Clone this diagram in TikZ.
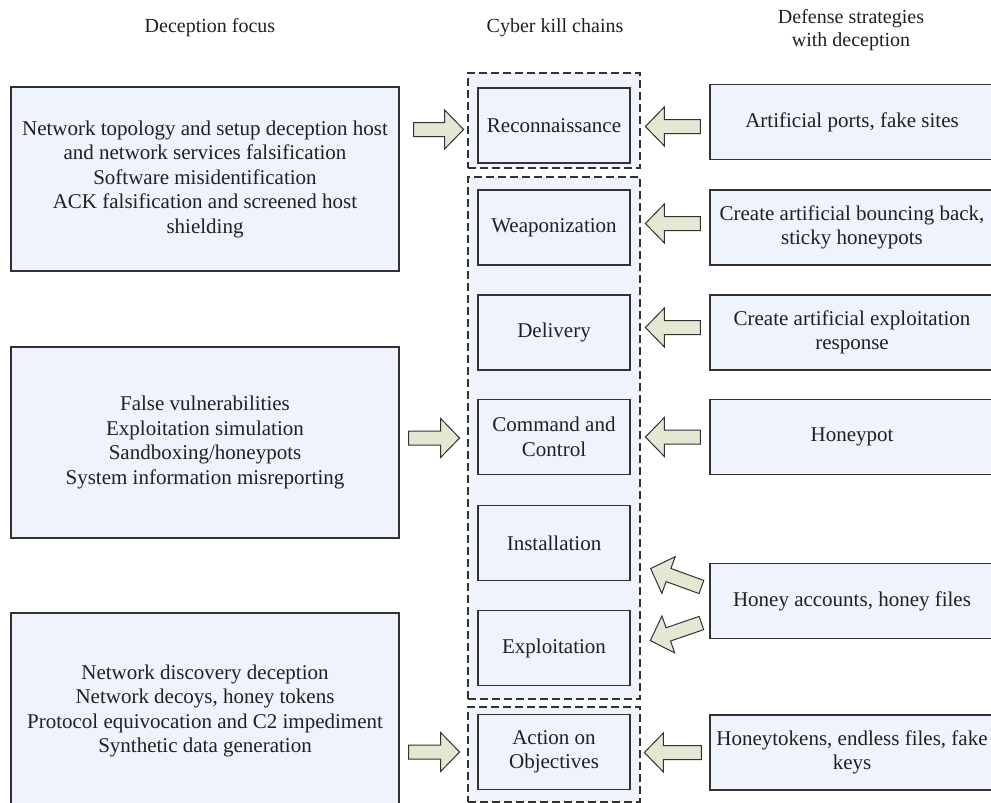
\documentclass[tikz,border=0pt]{standalone}
\usepackage{fontspec}
\setmainfont{Liberation Serif}
\usetikzlibrary{calc}
\definecolor{boxfill}{RGB}{239,243,251}
\definecolor{boxline}{RGB}{50,50,50}
\definecolor{inkcolor}{RGB}{35,31,32}
\definecolor{arrowfill}{RGB}{228,231,210}
\begin{document}
\begin{tikzpicture}[x=1pt,y=-1pt,
  txt/.style={font=\fontsize{21}{24.5}\selectfont, text=inkcolor, align=center, inner sep=0pt},
  headtxt/.style={txt, font=\fontsize{20}{23}\selectfont},
  framed/.style={txt, draw=boxline, fill=boxfill, line width=1.2pt},
  focusbox/.style={framed, minimum width=388pt},
  stagebox/.style={framed, minimum width=152pt, minimum height=75pt},
  defbox/.style={framed, minimum width=284pt, minimum height=75pt},
  groupbox/.style={draw=boxline, fill=boxfill, line width=1.1pt,
    dash pattern=on 8pt off 4pt, inner sep=0pt},
  pics/blockarrow/.style={code={
    \draw[draw=boxline, fill=arrowfill, line width=1pt, line join=miter]
      (0,-7) -- (#1-19,-7) -- (#1-19,-19.5) -- (#1,0) -- (#1-19,19.5)
      -- (#1-19,7) -- (0,7) -- cycle;}}
]
\useasboundingbox (0,0) rectangle (991,803);
\clip (0,0) rectangle (991,803);
\fill[white] (0,0) rectangle (991,803);

% column headings
\node[headtxt] (hfocus) at (210,28) {Deception focus};
\node[headtxt] (hchain) at (555,28) {Cyber kill chains};
\node[headtxt] (hdef) at (851,30) {Defense strategies\\with deception};

% kill chain groups
\node[groupbox, minimum width=172pt, minimum height=95pt] (g1) at (554,120.5) {};
\node[groupbox, minimum width=172pt, minimum height=522pt] (g2) at (554,438) {};
\node[groupbox, minimum width=172pt, minimum height=95pt] (g3) at (554,754.5) {};

% kill chain stages
\node[stagebox] (recon) at (554,125.5) {Reconnaissance};
\node[stagebox] (weap) at (554,227.5) {Weaponization};
\node[stagebox] (deliv) at (554,332.5) {Delivery};
\node[stagebox] (cmd) at (554,437) {Command and\\Control};
\node[stagebox] (inst) at (554,543) {Installation};
\node[stagebox] (expl) at (554,648) {Exploitation};
\node[stagebox] (act) at (554,752) {Action on\\Objectives};

% deception focus
\node[focusbox, minimum height=184pt] (l1) at (205,179)
  {Network topology and setup deception host\\and network services falsification\\Software misidentification\\ACK falsification and screened host\\shielding};
\node[focusbox, minimum height=191pt] (l2) at (205,442.5)
  {False vulnerabilities\\Exploitation simulation\\Sandboxing/honeypots\\System information misreporting};
\node[focusbox, minimum height=196pt] (l3) at (205,711)
  {Network discovery deception\\Network decoys, honey tokens\\Protocol equivocation and C2 impediment\\Synthetic data generation};

% defense strategies
\node[defbox] (r1) at (852,122) {Artificial ports, fake sites};
\node[defbox] (r2) at (852,227.5) {Create artificial bouncing back,\\sticky honeypots};
\node[defbox] (r3) at (852,332.5) {Create artificial exploitation\\response};
\node[defbox] (r4) at (852,437) {Honeypot};
\node[defbox] (r5) at (852,601) {Honey accounts, honey files};
\node[defbox] (r6) at (852,752.5) {Honeytokens, endless files, fake\\keys};

% arrows from deception focus into the chain
\pic at ($(l1.east |- recon.center)+(14,4)$) {blockarrow=50};
\pic at ($(l2.east |- cmd.center)+(9,1)$) {blockarrow=51};
\pic at ($(l3.east |- act.center)+(9,0)$) {blockarrow=51};

% arrows from defense strategies into the chain
\pic[rotate=180] at ($(r1.west |- recon.center)+(-9,1)$) {blockarrow=55};
\pic[rotate=180] at ($(r2.west)+(-9,-4)$) {blockarrow=55};
\pic[rotate=180] at ($(r3.west)+(-9,-5)$) {blockarrow=55};
\pic[rotate=180] at ($(r4.west)+(-9,0)$) {blockarrow=55};
\pic[rotate=160] at ($(r5.west)+(-8,-14)$) {blockarrow=54};
\pic[rotate=199] at ($(r5.west)+(-8,22)$) {blockarrow=54};
\pic[rotate=180] at ($(r6.west)+(-8,0)$) {blockarrow=57};
\end{tikzpicture}
\end{document}
